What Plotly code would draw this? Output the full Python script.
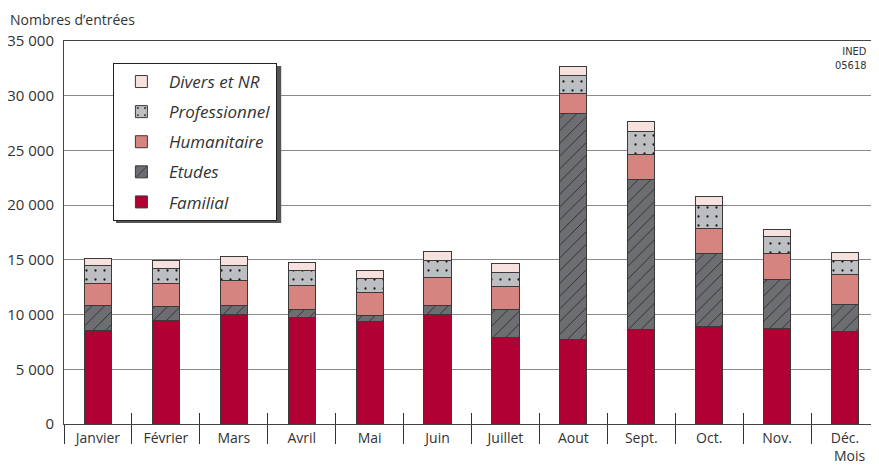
import plotly.graph_objects as go

months = ["Janvier", "Février", "Mars", "Avril", "Mai", "Juin", "Juillet",
          "Aout", "Sept.", "Oct.", "Nov.", "Déc."]
familial =      [8550, 9420, 9970, 9700, 9380, 10000, 7900, 7750, 8600, 8910, 8730, 8450]
etudes =        [2300, 1310, 890, 720, 490, 850, 2580, 20630, 13700, 6660, 4510, 2450]
humanitaire =   [2030, 2140, 2250, 2270, 2160, 2570, 2120, 1850, 2330, 2300, 2330, 2730]
professionnel = [1600, 1370, 1370, 1360, 1270, 1540, 1270, 1590, 2090, 2120, 1610, 1330]
divers =        [620, 730, 860, 700, 700, 770, 820, 860, 880, 760, 600, 730]
y_ticks = [0, 5000, 10000, 15000, 20000, 25000, 30000, 35000]
y_ticktext = ["0", "5 000", "10 000", "15 000", "20 000", "25 000", "30 000", "35 000"]

FONT = "Open Sans"
TXT = "#333333"
OUT = "#3a3a3a"

series = [
    ("Familial", familial, "#B00034", None),
    ("Etudes", etudes, "#6D6E72", dict(shape="/", fgcolor="#2b2b2b", bgcolor="#6D6E72",
                                         size=9, solidity=0.1, fillmode="replace")),
    ("Humanitaire", humanitaire, "#D68480", None),
    ("Professionnel", professionnel, "#BDBEC1", dict(shape=".", fgcolor="#1a1a1a", bgcolor="#BDBEC1",
                                                     size=9, solidity=0.05, fillmode="replace")),
    ("Divers et NR", divers, "#F7E1DE", None),
]

fig = go.Figure()
for rank, (name, vals, col, pat) in enumerate(series):
    marker = dict(color=col, line=dict(color=OUT, width=1))
    if pat:
        marker["pattern"] = pat
    fig.add_trace(go.Bar(x=months, y=vals, name=name, marker=marker, width=0.4,
                         legendgroup=name, legendrank=len(series) - rank,
                         hoverinfo="x+y+name"))

n = len(months)
bounds = [i - 0.5 for i in range(n + 1)]
# invisible helper traces so the two separator-tick axes get drawn
for ax in ("x2", "x3"):
    fig.add_trace(go.Scatter(x=bounds, y=[0] * len(bounds), xaxis=ax, yaxis="y",
                             mode="markers", marker=dict(opacity=0, size=1),
                             showlegend=False, hoverinfo="skip"))

fig.update_layout(
    width=871, height=458,
    margin=dict(l=56, r=0, t=33, b=42),
    barmode="stack",
    paper_bgcolor="white", plot_bgcolor="white",
    font=dict(family=FONT, size=14, color=TXT),
    showlegend=True,
    legend=dict(
        x=0.060, y=0.9426, xanchor="left", yanchor="top",
        bgcolor="white", bordercolor="#222222", borderwidth=1,
        traceorder="grouped", tracegroupgap=5, itemwidth=45,
        font=dict(family=FONT, size=17, color=TXT, style="italic"),
    ),
    xaxis=dict(
        type="category", range=[-0.5, n - 0.5], showgrid=False,
        showline=True, linecolor="#444444", linewidth=1, mirror=True,
        ticks="", ticklabelstandoff=1, tickfont=dict(size=14, color=TXT),
    ),
    xaxis2=dict(
        overlaying="x", anchor="y", range=[-0.5, n - 0.5], showgrid=False, zeroline=False,
        showline=False, showticklabels=False, tickvals=bounds,
        ticks="outside", ticklen=19, tickcolor="#333333", tickwidth=1,
    ),
    xaxis3=dict(
        overlaying="x", anchor="y", range=[-0.5, n - 0.5], showgrid=False, zeroline=False,
        showline=False, showticklabels=False, tickvals=bounds,
        ticks="inside", ticklen=11, tickcolor="#333333", tickwidth=1,
    ),
    yaxis=dict(
        range=[0, 35000], tickvals=y_ticks, ticktext=y_ticktext,
        showgrid=True, gridcolor="#8a8a8a", gridwidth=1,
        showline=True, linecolor="#444444", linewidth=1,
        ticks="", ticklabelstandoff=6, tickfont=dict(size=15, color=TXT),
        zeroline=False,
    ),
)

# legend drop shadow
fig.add_shape(type="rect", xref="paper", yref="paper",
              x0=0.0638, x1=0.2665, y0=0.525, y1=0.9347,
              fillcolor="#555555", line=dict(width=0), layer="above")

fig.add_annotation(text="Nombres d’entrées", xref="paper", yref="paper",
                   x=-0.0687, y=1.057, xanchor="left", yanchor="middle",
                   showarrow=False, font=dict(size=14, color=TXT))
fig.add_annotation(text="Mois", xref="paper", yref="paper",
                   x=0.985, y=-0.1097, xanchor="right", yanchor="bottom", borderpad=0,
                   showarrow=False, font=dict(size=14, color=TXT))
fig.add_annotation(text="INED<br>05618", xref="paper", yref="paper",
                   x=0.9877, y=0.995, xanchor="right", yanchor="top", align="right",
                   showarrow=False,
                   font=dict(family="Liberation Sans Narrow, DejaVu Sans Condensed, Liberation Sans",
                             size=11, color=TXT))

fig.write_html("out.html")
